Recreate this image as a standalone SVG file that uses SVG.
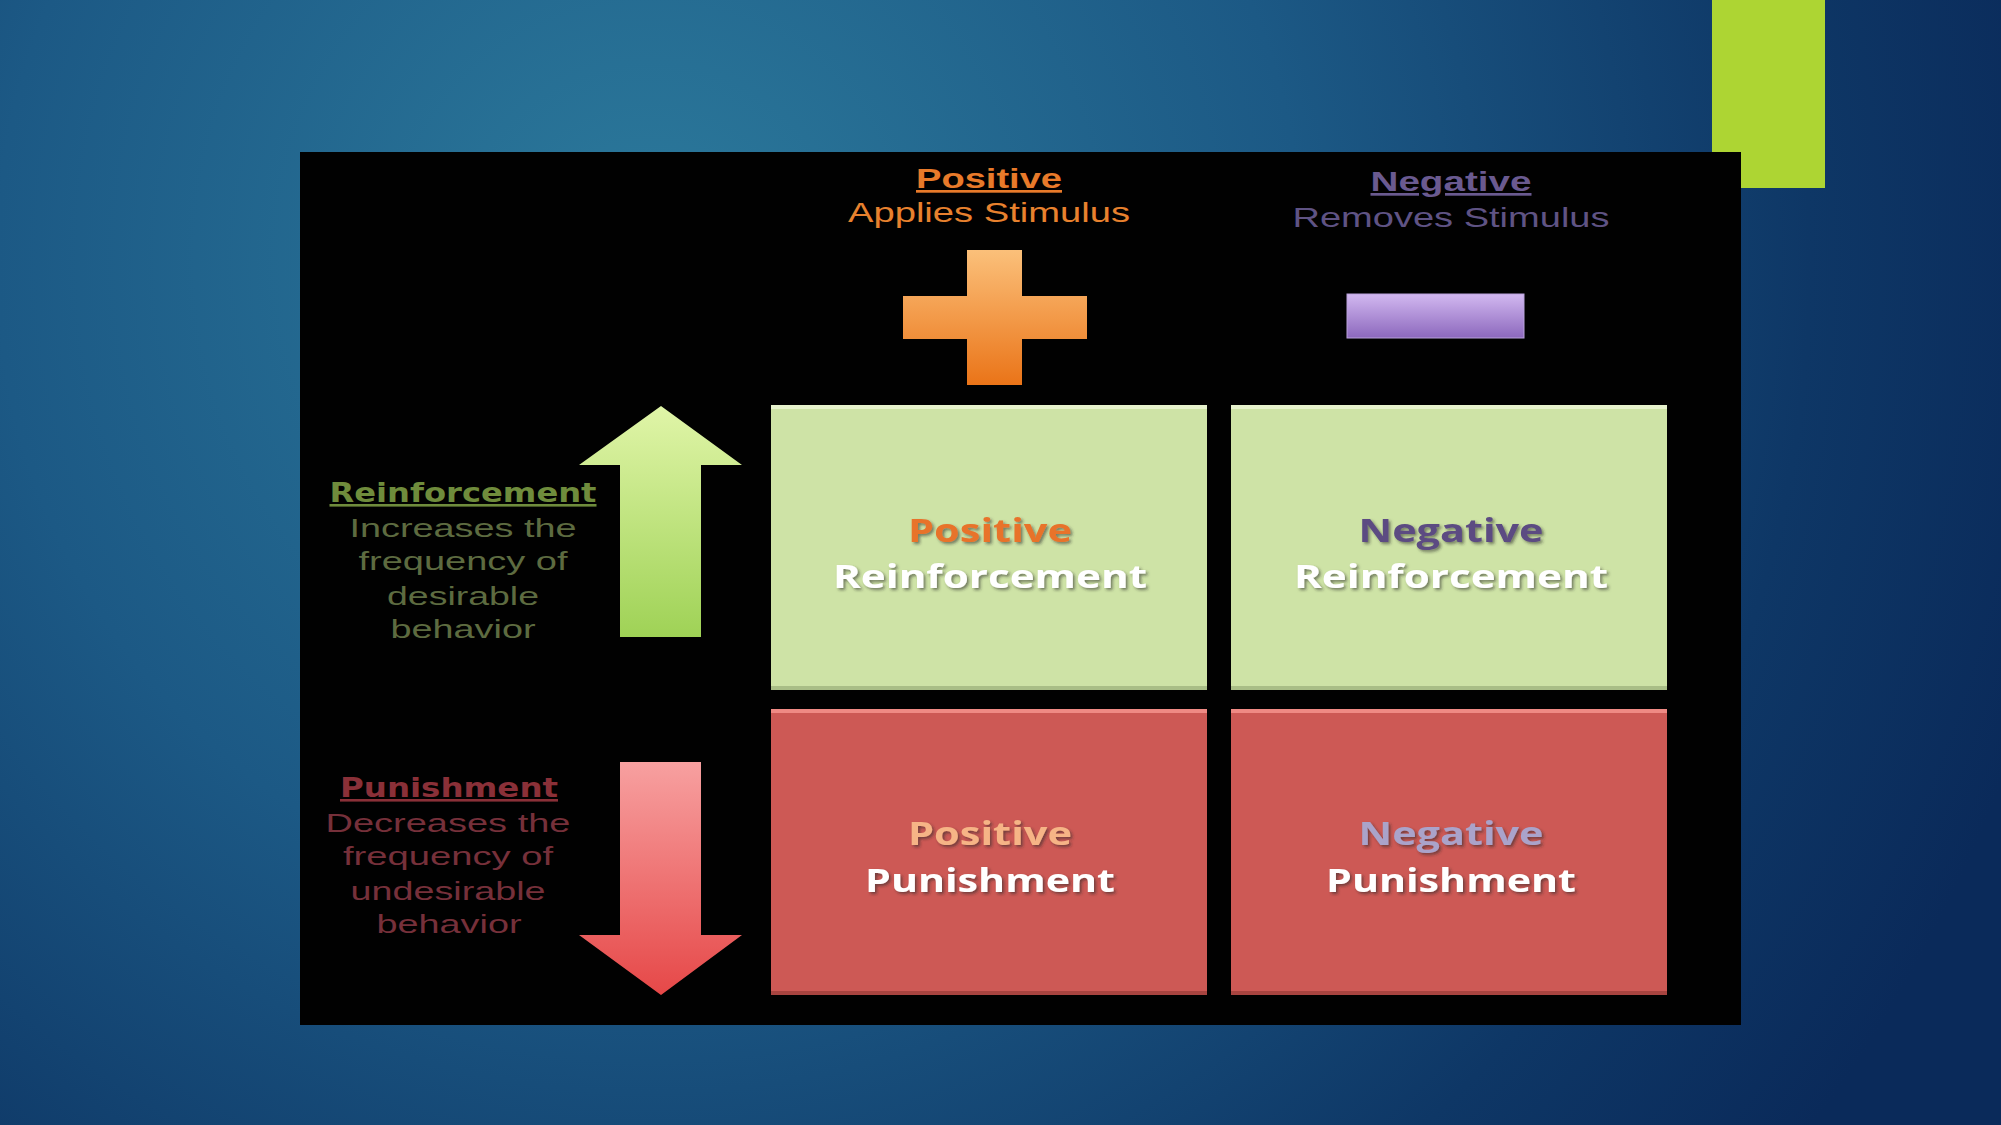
<svg xmlns="http://www.w3.org/2000/svg" width="2001" height="1125" viewBox="0 0 2001 1125">
<defs>
<radialGradient id="bg" gradientUnits="userSpaceOnUse" cx="650" cy="260" r="1450">
<stop offset="0" stop-color="#2c7a9c"/>
<stop offset="0.45" stop-color="#1c5985"/>
<stop offset="0.8" stop-color="#0e3766"/>
<stop offset="1" stop-color="#0a2a5a"/>
</radialGradient>
<linearGradient id="plusG" x1="0" y1="0" x2="0" y2="1">
<stop offset="0" stop-color="#fbc07a"/>
<stop offset="1" stop-color="#ea7418"/>
</linearGradient>
<linearGradient id="minusG" x1="0" y1="0" x2="0" y2="1">
<stop offset="0" stop-color="#d2b8f0"/>
<stop offset="1" stop-color="#8c68bd"/>
</linearGradient>
<linearGradient id="upG" x1="0" y1="0" x2="0" y2="1">
<stop offset="0" stop-color="#e0f5a8"/>
<stop offset="1" stop-color="#9fd256"/>
</linearGradient>
<linearGradient id="downG" x1="0" y1="0" x2="0" y2="1">
<stop offset="0" stop-color="#f7a0a0"/>
<stop offset="1" stop-color="#e64848"/>
</linearGradient>
<filter id="shadow" x="-10%" y="-30%" width="120%" height="160%">
<feDropShadow dx="2" dy="2" stdDeviation="1.5" flood-color="#2a2a2a" flood-opacity="0.55"/>
</filter>
<style>
.hdr{font-family:"Liberation Sans",Arial,sans-serif;font-weight:700;font-size:27px;text-anchor:middle;text-decoration:underline}
.sub{font-family:"Liberation Sans",Arial,sans-serif;font-size:28px;text-anchor:middle}
.lab{font-family:"DejaVu Sans",Verdana,sans-serif;font-weight:700;font-size:26px;text-anchor:middle;text-decoration:underline}
.body{font-family:"Liberation Sans",Arial,sans-serif;font-size:26px;text-anchor:middle}
.box{font-family:"Open Sans","Liberation Sans",sans-serif;font-weight:700;font-size:33px;text-anchor:middle;filter:url(#shadow)}
.green{fill:#cee3a6}
.red{fill:#cd5955}
</style>
</defs>
<rect x="0" y="0" width="2001" height="1125" fill="url(#bg)"/>
<rect x="1712" y="0" width="113" height="188" fill="#add533"/>
<rect x="300" y="152" width="1441" height="873" fill="#010101"/>

<g id="header-positive">
<text class="hdr" x="989" y="188" fill="#e87a2a" textLength="146" lengthAdjust="spacingAndGlyphs">Positive</text>
<text class="sub" x="989" y="222" fill="#e8812e" textLength="282" lengthAdjust="spacingAndGlyphs">Applies Stimulus</text>
</g>
<g id="header-negative">
<text class="hdr" x="1451" y="191" fill="#6a5a90" textLength="161" lengthAdjust="spacingAndGlyphs">Negative</text>
<text class="sub" x="1451" y="227" fill="#5f5384" textLength="317" lengthAdjust="spacingAndGlyphs">Removes Stimulus</text>
</g>
<g id="plus">
<path d="M967 250 H1022 V296 H1087 V339 H1022 V385 H967 V339 H903 V296 H967 Z" fill="url(#plusG)"/>
</g>
<g id="minus">
<rect x="1347" y="294" width="177" height="44" fill="url(#minusG)" stroke="#b9a2dc" stroke-width="1"/>
</g>

<g id="label-reinforcement">
<text class="lab" x="463" y="502" fill="#6f8c3c" textLength="267" lengthAdjust="spacingAndGlyphs">Reinforcement</text>
<text class="body" x="463" y="537" fill="#5d6b40" textLength="227" lengthAdjust="spacingAndGlyphs">Increases the</text>
<text class="body" x="463" y="570" fill="#5d6b40" textLength="209" lengthAdjust="spacingAndGlyphs">frequency of</text>
<text class="body" x="463" y="605" fill="#5d6b40" textLength="152" lengthAdjust="spacingAndGlyphs">desirable</text>
<text class="body" x="463" y="638" fill="#5d6b40" textLength="145" lengthAdjust="spacingAndGlyphs">behavior</text>
</g>
<g id="arrow-up">
<path d="M661 406 L742 465 H701 V637 H620 V465 H579 Z" fill="url(#upG)"/>
</g>

<g id="label-punishment">
<text class="lab" x="449" y="797" fill="#8a3038" textLength="218" lengthAdjust="spacingAndGlyphs">Punishment</text>
<text class="body" x="448" y="832" fill="#76303a" textLength="245" lengthAdjust="spacingAndGlyphs">Decreases the</text>
<text class="body" x="448" y="865" fill="#76303a" textLength="210" lengthAdjust="spacingAndGlyphs">frequency of</text>
<text class="body" x="448" y="900" fill="#76303a" textLength="195" lengthAdjust="spacingAndGlyphs">undesirable</text>
<text class="body" x="449" y="933" fill="#76303a" textLength="145" lengthAdjust="spacingAndGlyphs">behavior</text>
</g>
<g id="arrow-down">
<path d="M620 762 H701 V935 H742 L661 995 L579 935 H620 Z" fill="url(#downG)"/>
</g>

<g id="positive-reinforcement">
<rect class="green" x="771" y="405" width="436" height="285"/>
<rect x="771" y="405" width="436" height="4" fill="#e6f2cc"/>
<rect x="771" y="686" width="436" height="4" fill="#a9be86"/>
<text class="box" x="990" y="542" fill="#e8732a" textLength="164" lengthAdjust="spacingAndGlyphs">Positive</text>
<text class="box" x="990" y="588" fill="#ffffff" textLength="314" lengthAdjust="spacingAndGlyphs">Reinforcement</text>
</g>
<g id="negative-reinforcement">
<rect class="green" x="1231" y="405" width="436" height="285"/>
<rect x="1231" y="405" width="436" height="4" fill="#e6f2cc"/>
<rect x="1231" y="686" width="436" height="4" fill="#a9be86"/>
<text class="box" x="1451" y="542" fill="#5b4b82" textLength="185" lengthAdjust="spacingAndGlyphs">Negative</text>
<text class="box" x="1451" y="588" fill="#ffffff" textLength="314" lengthAdjust="spacingAndGlyphs">Reinforcement</text>
</g>
<g id="positive-punishment">
<rect class="red" x="771" y="709" width="436" height="286"/>
<rect x="771" y="709" width="436" height="4" fill="#ef8a84"/>
<rect x="771" y="991" width="436" height="4" fill="#a84440"/>
<text class="box" x="990" y="845" fill="#f6b486" textLength="164" lengthAdjust="spacingAndGlyphs">Positive</text>
<text class="box" x="990" y="892" fill="#ffffff" textLength="250" lengthAdjust="spacingAndGlyphs">Punishment</text>
</g>
<g id="negative-punishment">
<rect class="red" x="1231" y="709" width="436" height="286"/>
<rect x="1231" y="709" width="436" height="4" fill="#ef8a84"/>
<rect x="1231" y="991" width="436" height="4" fill="#a84440"/>
<text class="box" x="1451" y="845" fill="#aaa3ca" textLength="185" lengthAdjust="spacingAndGlyphs">Negative</text>
<text class="box" x="1451" y="892" fill="#ffffff" textLength="250" lengthAdjust="spacingAndGlyphs">Punishment</text>
</g>
<g id="connectors"></g>
</svg>
